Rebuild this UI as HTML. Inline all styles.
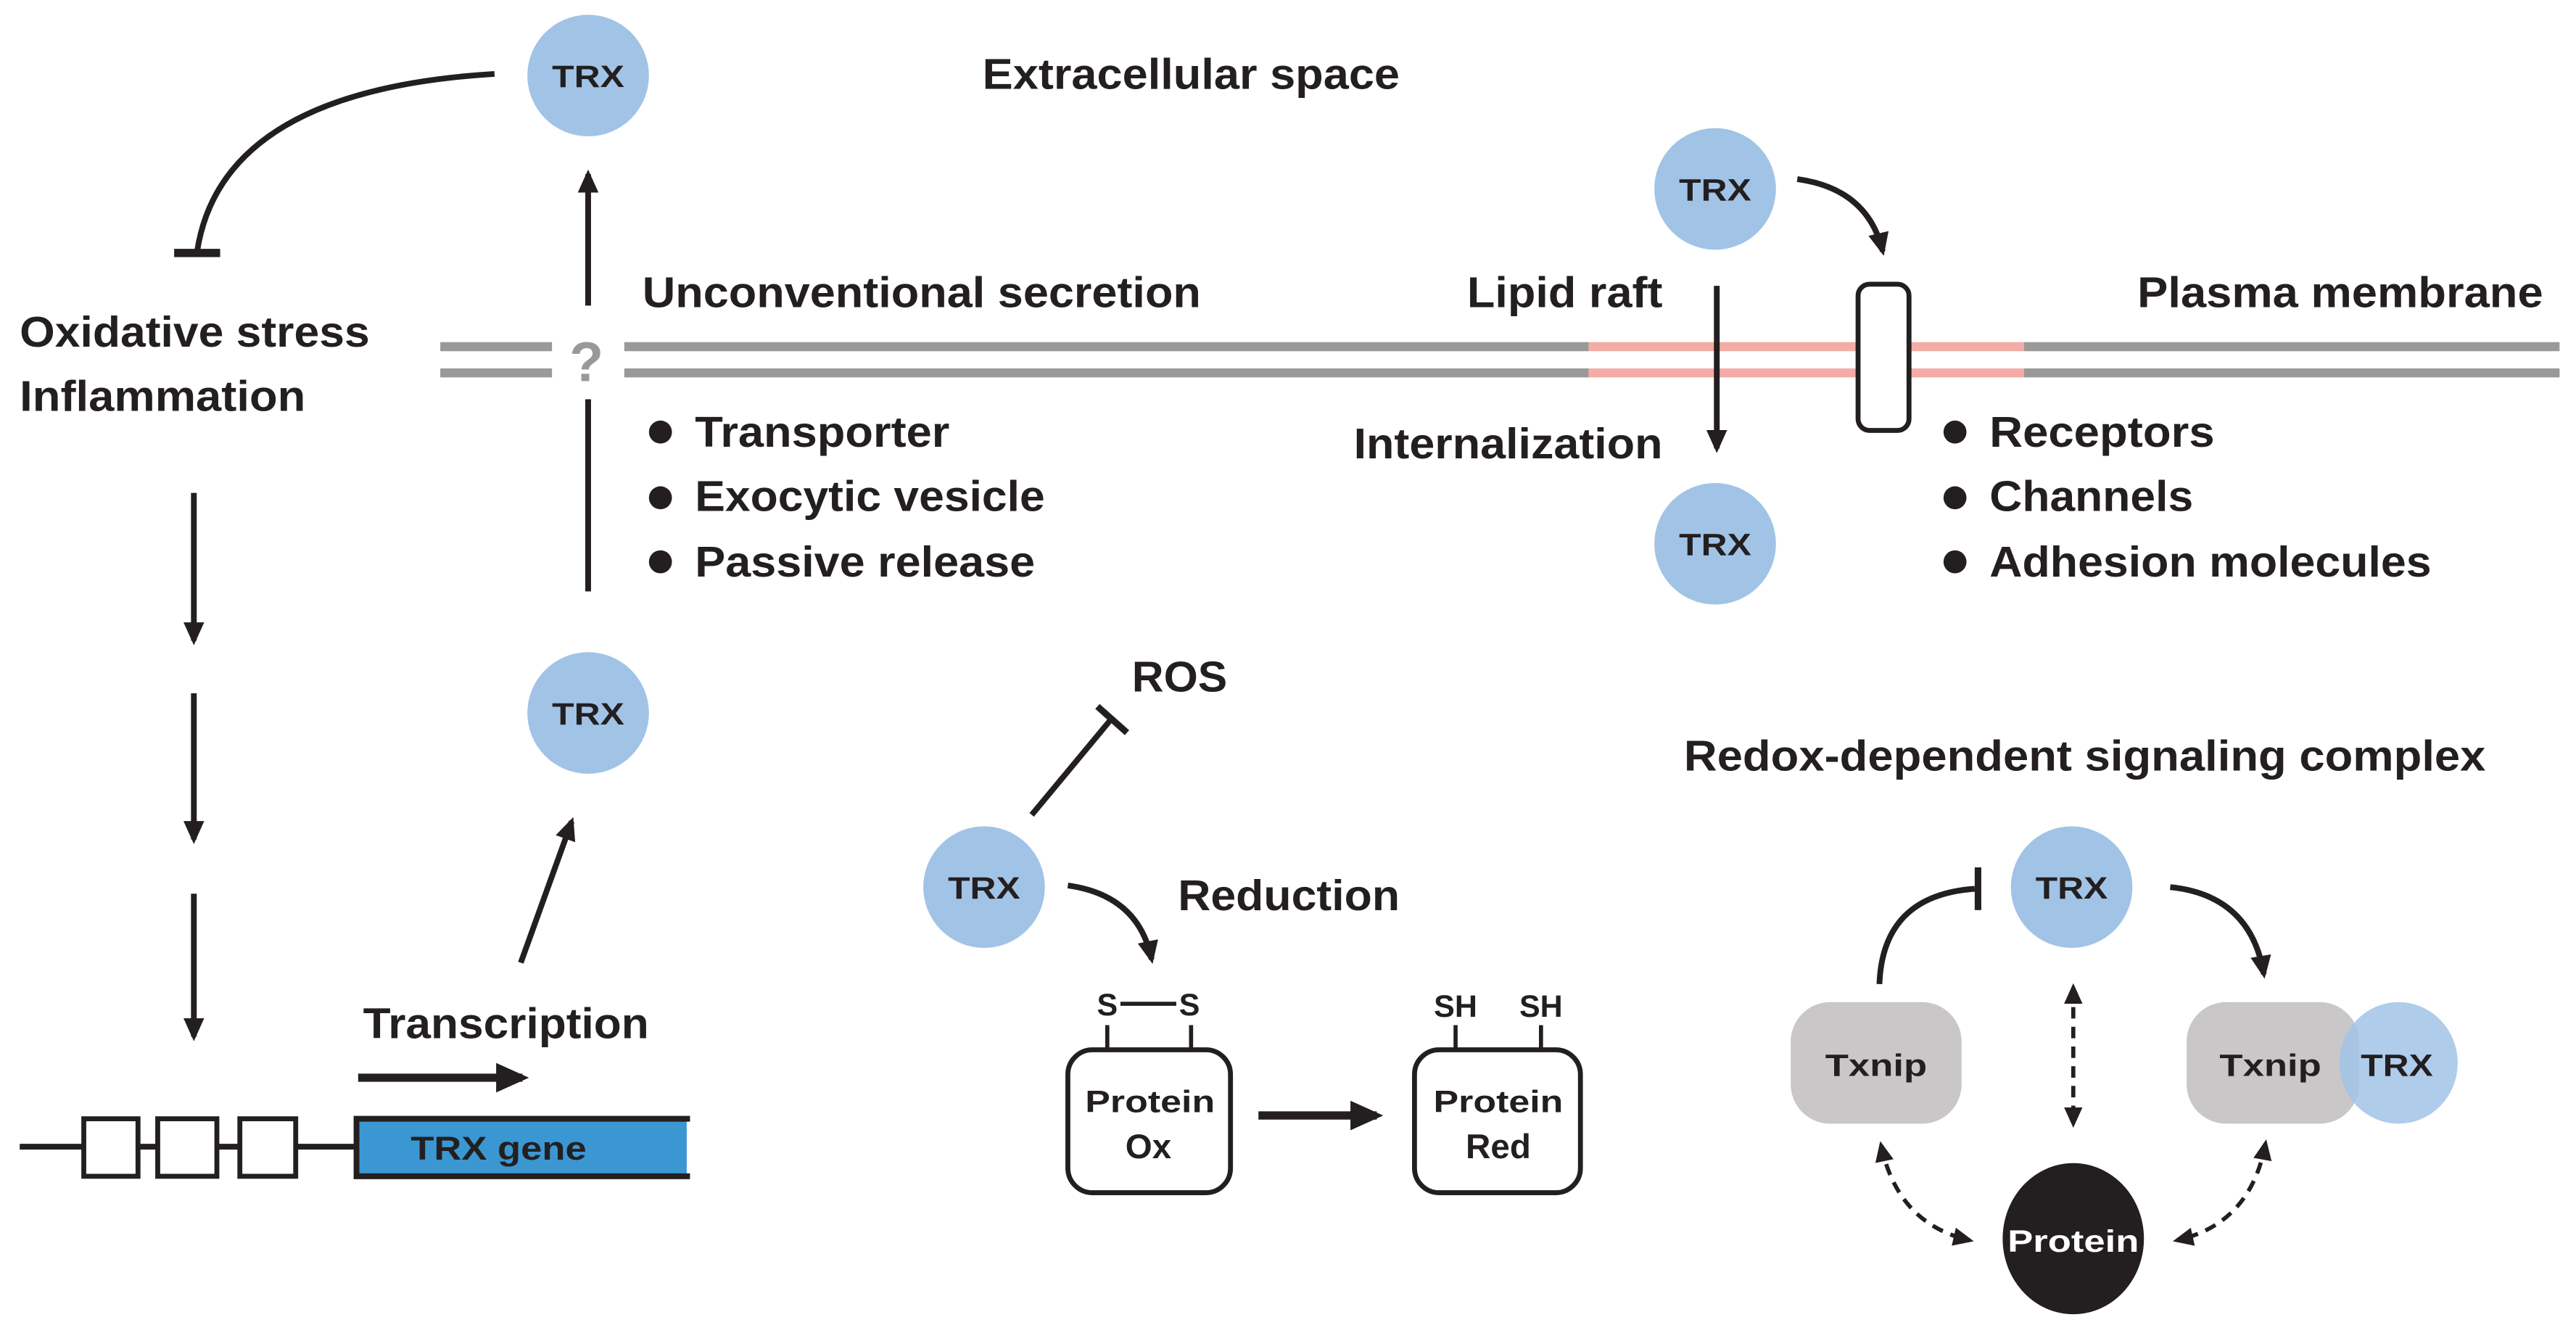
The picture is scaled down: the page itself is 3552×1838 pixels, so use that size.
<!DOCTYPE html>
<html><head><meta charset="utf-8"><style>
html,body{margin:0;padding:0;background:#fff;}
svg{display:block;}
text{font-family:"Liberation Sans",Arial,sans-serif;font-weight:bold;fill:#231f20;}
</style></head><body>
<svg width="3552" height="1838" viewBox="0 0 1568 811.4" preserveAspectRatio="none" xmlns="http://www.w3.org/2000/svg">
<defs>
<marker id="ah" viewBox="0 0 10 10" refX="8" refY="5" markerWidth="4" markerHeight="4.2" orient="auto-start-reverse"><path d="M0,0.5 L10,5 L0,9.5 z" fill="#231f20"/></marker>
<marker id="ahs" viewBox="0 0 10 10" refX="8" refY="5" markerWidth="5" markerHeight="5" orient="auto-start-reverse"><path d="M0,0.5 L10,5 L0,9.5 z" fill="#231f20"/></marker>
</defs>
<g stroke="#231f20" fill="none" stroke-width="3.5">
<g stroke-width="5.5">
<line x1="268" y1="211" x2="336" y2="211" stroke="#999"/><line x1="268" y1="227" x2="336" y2="227" stroke="#999"/>
<line x1="380" y1="211" x2="967" y2="211" stroke="#999"/><line x1="380" y1="227" x2="967" y2="227" stroke="#999"/>
<line x1="967" y1="211" x2="1232" y2="211" stroke="#f4aca6"/><line x1="967" y1="227" x2="1232" y2="227" stroke="#f4aca6"/>
<line x1="1232" y1="211" x2="1558" y2="211" stroke="#999"/><line x1="1232" y1="227" x2="1558" y2="227" stroke="#999"/>
</g>
<rect x="1131" y="173" width="31" height="89" rx="7" fill="#fff" stroke-width="3"/>
<line x1="358" y1="186" x2="358" y2="106" marker-end="url(#ah)"/>
<line x1="358" y1="243" x2="358" y2="360"/>
<path d="M301,45 Q135,55 120,153"/>
<line x1="106" y1="154" x2="134" y2="154" stroke-width="5"/>
<line x1="118" y1="300" x2="118" y2="390" marker-end="url(#ah)"/>
<line x1="118" y1="422" x2="118" y2="511" marker-end="url(#ah)"/>
<line x1="118" y1="544" x2="118" y2="631" marker-end="url(#ah)"/>
<line x1="12" y1="698" x2="217" y2="698"/>
<rect x="51" y="681" width="33" height="35" fill="#fff" stroke-width="3"/>
<rect x="96" y="681" width="36" height="35" fill="#fff" stroke-width="3"/>
<rect x="146" y="681" width="34" height="35" fill="#fff" stroke-width="3"/>
<rect x="217" y="681" width="201" height="35" fill="#3b97d1" stroke="none"/>
<path d="M420,681 L217,681 L217,716 L420,716" stroke-width="3.5"/>
<line x1="218" y1="656" x2="318" y2="656" stroke-width="5" marker-end="url(#ah)"/>
<line x1="317" y1="586" x2="348" y2="500" marker-end="url(#ah)"/>
<line x1="1045" y1="174" x2="1045" y2="273" marker-end="url(#ah)"/>
<path d="M1094,109 Q1137,115 1146,153" marker-end="url(#ah)"/>
<line x1="628" y1="496" x2="677" y2="437"/>
<line x1="668" y1="430" x2="686" y2="446" stroke-width="4"/>
<path d="M650,539 Q693,545 701,584" marker-end="url(#ah)"/>
<rect x="650" y="639" width="99" height="87" rx="15" fill="#fff" stroke-width="3"/>
<line x1="674" y1="624" x2="674" y2="639" stroke-width="2.5"/><line x1="725" y1="624" x2="725" y2="639" stroke-width="2.5"/>
<line x1="682" y1="611" x2="716" y2="611" stroke-width="2.5"/>
<line x1="766" y1="679" x2="838" y2="679" stroke-width="5" marker-end="url(#ah)"/>
<rect x="861" y="639" width="101" height="87" rx="15" fill="#fff" stroke-width="3"/>
<line x1="886" y1="624" x2="886" y2="639" stroke-width="2.5"/><line x1="938" y1="624" x2="938" y2="639" stroke-width="2.5"/>
<path d="M1144,599 Q1146,545 1202,541"/>
<line x1="1204" y1="528" x2="1204" y2="554" stroke-width="4"/>
<path d="M1321,540 Q1370,545 1378,593" marker-end="url(#ah)"/>
<g stroke-dasharray="7,5" stroke-width="2.5">
<line x1="1262" y1="601" x2="1262" y2="684" marker-start="url(#ahs)" marker-end="url(#ahs)"/>
<path d="M1145,697 Q1155,745 1199,755" marker-start="url(#ahs)" marker-end="url(#ahs)"/>
<path d="M1379,696 Q1370,745 1325,755" marker-start="url(#ahs)" marker-end="url(#ahs)"/>
</g>
</g>
<g fill="#a1c3e6">
<ellipse cx="358" cy="46" rx="37" ry="37"/>
<ellipse cx="1044" cy="115" rx="37" ry="37"/>
<ellipse cx="1044" cy="331" rx="37" ry="37"/>
<ellipse cx="358" cy="434" rx="37" ry="37"/>
<ellipse cx="599" cy="540" rx="37" ry="37"/>
<ellipse cx="1261" cy="540" rx="37" ry="37"/>
</g>
<rect x="1090" y="610" width="104" height="74" rx="24" fill="#c9c7c7"/>
<rect x="1331" y="610" width="105" height="74" rx="24" fill="#c9c7c7"/>
<ellipse cx="1460" cy="647" rx="36" ry="37" fill="#a1c3e6" opacity="0.85"/>
<ellipse cx="1262" cy="754" rx="43" ry="46" fill="#231f20"/>
<g font-size="19" text-anchor="middle">
<text x="358" y="53" textLength="44" lengthAdjust="spacingAndGlyphs">TRX</text>
<text x="1044" y="122" textLength="44" lengthAdjust="spacingAndGlyphs">TRX</text>
<text x="1044" y="338" textLength="44" lengthAdjust="spacingAndGlyphs">TRX</text>
<text x="358" y="441" textLength="44" lengthAdjust="spacingAndGlyphs">TRX</text>
<text x="599" y="547" textLength="44" lengthAdjust="spacingAndGlyphs">TRX</text>
<text x="1261" y="547" textLength="44" lengthAdjust="spacingAndGlyphs">TRX</text>
<text x="1459" y="655" textLength="44" lengthAdjust="spacingAndGlyphs">TRX</text>
<text x="1142" y="655" textLength="62" lengthAdjust="spacingAndGlyphs">Txnip</text>
<text x="1382" y="655" textLength="62" lengthAdjust="spacingAndGlyphs">Txnip</text>
<text x="1262" y="762" textLength="80" lengthAdjust="spacingAndGlyphs" style="fill:#fff">Protein</text>
<text x="700" y="677" textLength="79" lengthAdjust="spacingAndGlyphs">Protein</text><text x="699" y="705" font-size="21">Ox</text>
<text x="912" y="677" textLength="79" lengthAdjust="spacingAndGlyphs">Protein</text><text x="912" y="705" font-size="21">Red</text>
<text x="674" y="618">S</text><text x="724" y="618">S</text>
<text x="886" y="619">SH</text><text x="938" y="619">SH</text>
</g>
<text x="357" y="232" font-size="34" text-anchor="middle" style="fill:#999">?</text>
<g font-size="26">
<text x="598" y="54" textLength="254" lengthAdjust="spacingAndGlyphs">Extracellular space</text>
<text x="391" y="187" textLength="340" lengthAdjust="spacingAndGlyphs">Unconventional secretion</text>
<text x="893" y="187" textLength="119" lengthAdjust="spacingAndGlyphs">Lipid raft</text>
<text x="1301" y="187" textLength="247" lengthAdjust="spacingAndGlyphs">Plasma membrane</text>
<text x="824" y="279" textLength="188" lengthAdjust="spacingAndGlyphs">Internalization</text>
<text x="12" y="211" textLength="213" lengthAdjust="spacingAndGlyphs">Oxidative stress</text>
<text x="12" y="250" textLength="174" lengthAdjust="spacingAndGlyphs">Inflammation</text>
<text x="423" y="272" textLength="155" lengthAdjust="spacingAndGlyphs">Transporter</text>
<text x="423" y="311" textLength="213" lengthAdjust="spacingAndGlyphs">Exocytic vesicle</text>
<text x="423" y="351" textLength="207" lengthAdjust="spacingAndGlyphs">Passive release</text>
<text x="1211" y="272" textLength="137" lengthAdjust="spacingAndGlyphs">Receptors</text>
<text x="1211" y="311" textLength="124" lengthAdjust="spacingAndGlyphs">Channels</text>
<text x="1211" y="351" textLength="269" lengthAdjust="spacingAndGlyphs">Adhesion molecules</text>
<text x="221" y="632" textLength="174" lengthAdjust="spacingAndGlyphs">Transcription</text>
<text x="689" y="421" textLength="58" lengthAdjust="spacingAndGlyphs">ROS</text>
<text x="717" y="554" textLength="135" lengthAdjust="spacingAndGlyphs">Reduction</text>
<text x="1025" y="469" textLength="488" lengthAdjust="spacingAndGlyphs">Redox-dependent signaling complex</text>
</g>
<g fill="#231f20">
<circle cx="402" cy="263" r="7"/><circle cx="402" cy="303" r="7"/><circle cx="402" cy="342" r="7"/>
<circle cx="1190" cy="263" r="7"/><circle cx="1190" cy="303" r="7"/><circle cx="1190" cy="342" r="7"/>
</g>
<text x="250" y="706" font-size="20" textLength="107" lengthAdjust="spacingAndGlyphs">TRX gene</text>
</svg>
</body></html>
